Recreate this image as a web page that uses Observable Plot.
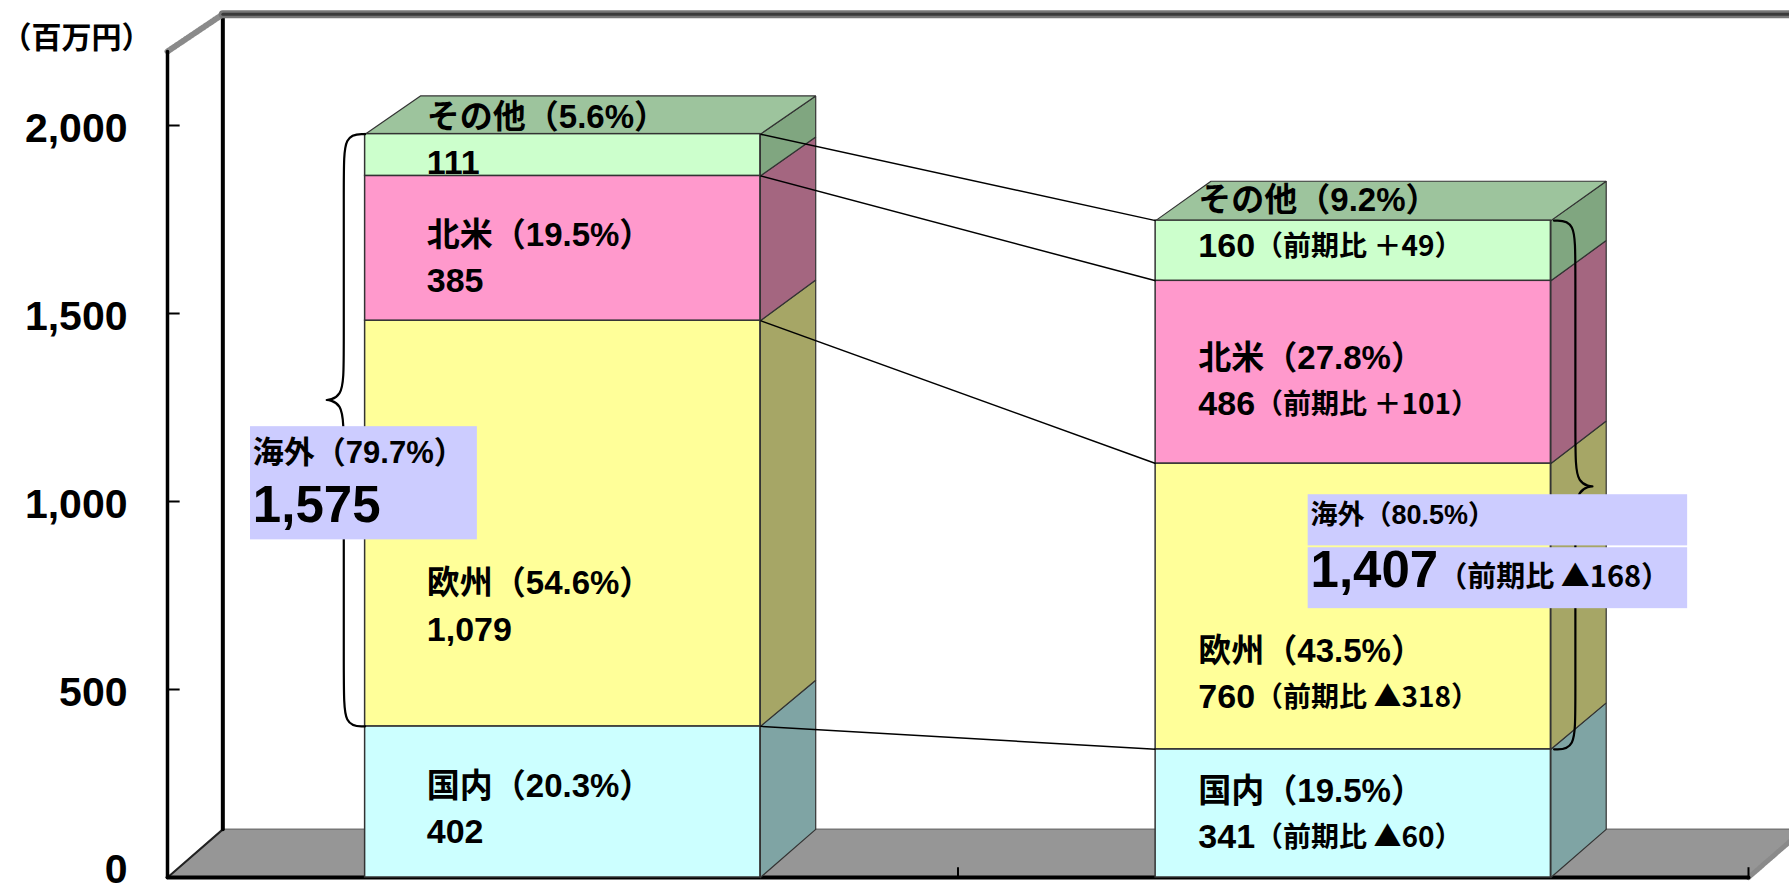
<!DOCTYPE html>
<html><head><meta charset="utf-8">
<script src="https://cdn.jsdelivr.net/npm/d3@7"></script>
<script src="https://cdn.jsdelivr.net/npm/@observablehq/plot@0.6"></script>
<style>
html,body{margin:0;padding:0;background:#fff;overflow:hidden}
#chart svg{display:block}
</style></head><body><div id="chart"></div>
<script>
// ---------------- data ----------------
const periods = ["前期", "当期"];
const regions = ["国内", "欧州", "北米", "その他"];
const valuesPrev = [402, 1079, 385, 111];
const valuesCurr = [341, 760, 486, 160];
const sharesPrev = ["20.3%", "54.6%", "19.5%", "5.6%"];
const sharesCurr = ["19.5%", "43.5%", "27.8%", "9.2%"];
const changesCurr = ["▲60", "▲318", "＋101", "＋49"];
const overseasTotals = [1575, 1407];
const overseasShares = ["79.7%", "80.5%"];
const overseasChanges = [null, "▲168"];
const yTicks = [0, 500, 1000, 1500, 2000];
const unitLabel = "（百万円）";

// ---------------- styles ----------------
const frontColors = ["#CCFFFF", "#FFFF99", "#FF99CC", "#CCFFCC"];
const sideColors = ["#7FA4A4", "#A6A666", "#A46680", "#80A680"];
const topColor = "#9DC49D";
const boxColor = "#CCCCFF";
const FONT = "'Liberation Sans', 'Noto Sans CJK JP', sans-serif";
const CJKFONT = "'Noto Sans CJK JP', 'Liberation Sans', sans-serif";

// ---------------- layout ----------------
const W = 1789, H = 892;
const mL = 167, mR = 41, mT = 125, mB = 15;
const xDomain = [-0.5, 1.5];
const pxPerUnit = (W - mL - mR) / (xDomain[1] - xDomain[0]);
const barW = 0.5, depthX = 0.07;
const backV = v => 128 + 0.9867 * v;      // value of the back edge seen behind value v
const wallTop = 2197;
const labelCenters = [[182, 720, 1646, 1960], [168, 541, 1320, 1740]];
const lineGap = 122;
const labelDx = [0.078, 0.054];
const braceTips = [1270, 1040];
const boxLayout = [
  [{x1: -0.395, x2: -0.108, y1: 898, y2: 1199}],
  [{x1: 0.943, x2: 1.423, y1: 882, y2: 1018}, {x1: 0.943, x2: 1.423, y1: 715, y2: 877}]
];

const fmt = d3.format(",");
const ctx = document.createElement("canvas").getContext("2d");
function measure(t, size) { ctx.font = `bold ${size}px ${FONT}`; return ctx.measureText(t).width; }

const series = [valuesPrev, valuesCurr];
const shares = [sharesPrev, sharesCurr];
const segs = [];
series.forEach((vals, i) => {
  let c = 0;
  vals.forEach((v, j) => { segs.push({period: periods[i], i, j, v, y1: c, y2: c + v}); c += v; });
});
const totals = series.map(a => d3.sum(a));

const P = (x, y) => ({x, y});
const poly = (pts, o) => Plot.line([...pts, pts[0]], {x: "x", y: "y", strokeLinejoin: "miter", ...o});
const seg = (pts, o) => Plot.line(pts, {x: "x", y: "y", ...o});

const marks = [];
const [xL, xR] = xDomain;

// floor
marks.push(poly([P(xL, 0), P(xR, 0), P(xR + depthX, backV(0)), P(xL + depthX, backV(0))], {fill: "#969696", stroke: "none"}));
marks.push(seg([P(xL + depthX, backV(0)), P(xR + depthX, backV(0))], {stroke: "#777", strokeWidth: 1.5}));
marks.push(seg([P(xL, 0), P(xL + depthX, backV(0))], {stroke: "#222", strokeWidth: 2}));
marks.push(seg([P(xR, 0), P(xR + depthX, backV(0))], {stroke: "#8a8a8a", strokeWidth: 5, strokeDasharray: "2,1.5"}));
// walls
marks.push(seg([P(xL + depthX, backV(0)), P(xL + depthX, backV(wallTop))], {stroke: "#000", strokeWidth: 4}));
marks.push(seg([P(xL, wallTop), P(xL + depthX, backV(wallTop))], {stroke: "#8a8a8a", strokeWidth: 6, strokeDasharray: "2,1.5"}));
marks.push(seg([P(xL + depthX, backV(wallTop)), P(2.2, backV(wallTop))], {stroke: "#777", strokeWidth: 8}));
marks.push(seg([P(xL + depthX, backV(wallTop)), P(2.2, backV(wallTop))], {stroke: "#3a3a3a", strokeWidth: 3}));
marks.push(seg([P(xL, 0), P(xL, wallTop)], {stroke: "#000", strokeWidth: 3.5}));
marks.push(seg([P(xL, 0), P(xR, 0)], {stroke: "#000", strokeWidth: 4}));
marks.push(Plot.ruleY(yTicks.filter(t => t > 0), {x1: xL, x2: xL + 0.016, stroke: "#000", strokeWidth: 2}));
marks.push(Plot.ruleX([0.5, 1.5], {y1: 0, y2: 26, stroke: "#000", strokeWidth: 2}));

// bars: side and top faces
periods.forEach((p, i) => {
  const x1 = i - barW / 2, x2 = i + barW / 2;
  segs.filter(s => s.i === i).forEach(s => {
    marks.push(poly([P(x2, s.y1), P(x2 + depthX, backV(s.y1)), P(x2 + depthX, backV(s.y2)), P(x2, s.y2)],
      {fill: sideColors[s.j], stroke: "#333", strokeWidth: 1.2}));
  });
  const T = totals[i];
  marks.push(poly([P(x1, T), P(x2, T), P(x2 + depthX, backV(T)), P(x1 + depthX, backV(T))],
    {fill: topColor, stroke: "#333", strokeWidth: 1.2}));
});
// front faces
marks.push(Plot.rect(segs, {x1: d => d.i - barW / 2, x2: d => d.i + barW / 2, y1: "y1", y2: "y2",
  fill: d => frontColors[d.j], stroke: "#333", strokeWidth: 1.5}));

// connecting lines between the two bars
const links = regions.map((r, j) => ({a: d3.sum(valuesPrev.slice(0, j + 1)), b: d3.sum(valuesCurr.slice(0, j + 1))}));
marks.push(Plot.link(links, {x1: barW / 2, x2: 1 - barW / 2, y1: "a", y2: "b", stroke: "#000", strokeWidth: 1.5}));

// braces
function brace(xe, top, bottom, tip, dir) {
  const w = 0.027 * dir, r = 110;
  return [P(xe, top), P(xe + w, top), P(xe + w, top - r), P(xe + w, tip + r), P(xe + w, tip),
          P(xe + 2.2 * w, tip), P(xe + w, tip), P(xe + w, tip - r), P(xe + w, bottom + r), P(xe + w, bottom), P(xe, bottom)];
}
marks.push(seg(brace(-barW / 2, totals[0], valuesPrev[0], braceTips[0], -1), {curve: "basis", stroke: "#000", strokeWidth: 2.2}));
marks.push(seg(brace(1 + barW / 2 + 0.004, totals[1], valuesCurr[0], braceTips[1], 1), {curve: "basis", stroke: "#000", strokeWidth: 2.2}));

// overseas boxes
marks.push(Plot.rect(boxLayout.flat(), {x1: "x1", x2: "x2", y1: "y1", y2: "y2", fill: boxColor}));

// text helpers
const textMark = (data, size, extra = {}) => Plot.text(data, {x: "x", y: "y", text: "text", fontSize: size,
  fontWeight: "bold", fontFamily: FONT, textAnchor: "start", fill: "#000", ...extra});

const L1 = [], L2 = [], L2s = [];
segs.forEach(s => {
  const xl = s.i - barW / 2 + labelDx[s.i];
  const c = labelCenters[s.i][s.j];
  L1.push({x: xl, y: c + lineGap / 2, text: `${regions[s.j]}（${shares[s.i][s.j]}）`});
  const num = fmt(s.v);
  L2.push({x: xl, y: c - lineGap / 2, text: num});
  if (s.i === 1) L2s.push({x: xl + measure(num, 34) / pxPerUnit, y: c - lineGap / 2, text: `（前期比 ${changesCurr[s.j]}）`});
});
marks.push(textMark(L1, 33));
marks.push(textMark(L2, 34));
marks.push(textMark(L2s, 28, {dy: 1, fontFamily: CJKFONT}));

// overseas texts
const ov1 = [{x: -0.392, y: 1129, text: `海外（${overseasShares[0]}）`}];
const ov2 = [{x: 0.946, y: 962, text: `海外（${overseasShares[1]}）`}];
const ovNum = [{x: -0.392, y: 988, text: fmt(overseasTotals[0])}, {x: 0.946, y: 816, text: fmt(overseasTotals[1])}];
const ovSuf = [{x: 0.946 + measure(fmt(overseasTotals[1]), 51) / pxPerUnit, y: 797, text: `（前期比 ${overseasChanges[1]}）`}];
marks.push(textMark(ov1, 31));
marks.push(textMark(ov2, 27));
marks.push(textMark(ovNum, 51));
marks.push(textMark(ovSuf, 29, {fontFamily: CJKFONT}));

// unit label (top-left corner)
marks.push(Plot.text([unitLabel], {frameAnchor: "top-left", text: d => d, dx: -mL + 1, dy: -mT + 38,
  textAnchor: "start", lineAnchor: "middle", fontSize: 30, fontWeight: "bold", fontFamily: FONT, fill: "#000"}));

// y axis labels
marks.push(Plot.axisY({ticks: yTicks.filter(t => t > 0), tickSize: 0, tickPadding: 40, tickFormat: fmt, fontSize: 41,
  fontWeight: "bold", fontFamily: FONT, label: null, dy: 3, fill: "#000"}));
marks.push(Plot.axisY({ticks: yTicks.filter(t => t === 0), tickSize: 0, tickPadding: 40, tickFormat: fmt, fontSize: 41,
  fontWeight: "bold", fontFamily: FONT, label: null, dy: -8, fill: "#000"}));

const chart = Plot.plot({
  width: W, height: H,
  marginLeft: mL, marginRight: mR, marginTop: mT, marginBottom: mB,
  x: {domain: xDomain, axis: null},
  y: {domain: [0, 2000], axis: null, label: null},
  color: {type: "identity"},
  style: {fontFamily: FONT, background: "#fff", color: "#000"},
  marks
});
document.getElementById("chart").appendChild(chart);
</script>
</body></html>
